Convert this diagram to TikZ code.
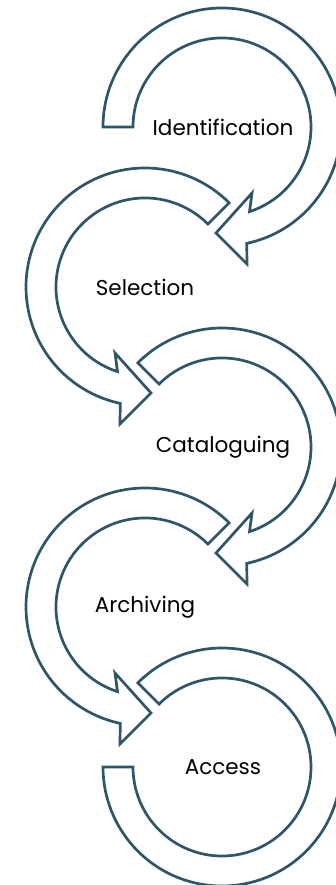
\documentclass[tikz,border=0pt]{standalone}
\usepackage{fontspec}
\setmainfont{Poppins}
\usepackage{tikz}
\usetikzlibrary{positioning}

\definecolor{arrowblue}{RGB}{47,85,105}

% one curved arrow: #1 centre, #2 start angle, #3 xscale (1 or -1)
\newcommand{\curvedarrow}[3]{%
  \begin{scope}[shift={#1},xscale=#3]
    \draw[ArrowStyle] (#2:119) arc[start angle=#2, end angle=-78, radius=119]
      -- (25,-137) -- (-6,-106) -- (30,-66)
      -- (-72:89) arc[start angle=-72, end angle=#2, radius=89] -- cycle;
  \end{scope}}

\begin{document}
\begin{tikzpicture}[x=1pt,y=1pt]
  \tikzset{ArrowStyle/.style = {
    draw          = arrowblue,
    fill          = white,
    line width    = 2.7pt,
    line join     = miter
    }
  }
  \tikzset{LabelStyle/.style = {
    text          = black,
    inner sep     = 0pt,
    font          = \fontsize{21.5}{25}\selectfont
    }
  }
  \useasboundingbox (0,0) rectangle (335,885);

  \curvedarrow{(222,758)}{180}{1}
  \curvedarrow{(145,598)}{135}{-1}
  \curvedarrow{(222,438)}{135}{1}
  \curvedarrow{(145,278)}{135}{-1}
  % last one closes without a head
  \draw[ArrowStyle] (222,118) ++(135:119) arc[start angle=135, end angle=-180, radius=119]
    -- ++(30,0) arc[start angle=-180, end angle=135, radius=89] -- cycle;

  \node[LabelStyle](ident) at (223,758) {Identification};
  \node[LabelStyle](selec) at (145,598) {Selection};
  \node[LabelStyle](catal) at (223,438) {Cataloguing};
  \node[LabelStyle](archi) at (145,278) {Archiving};
  \node[LabelStyle](acces) at (223,118) {Access};
\end{tikzpicture}
\end{document}
